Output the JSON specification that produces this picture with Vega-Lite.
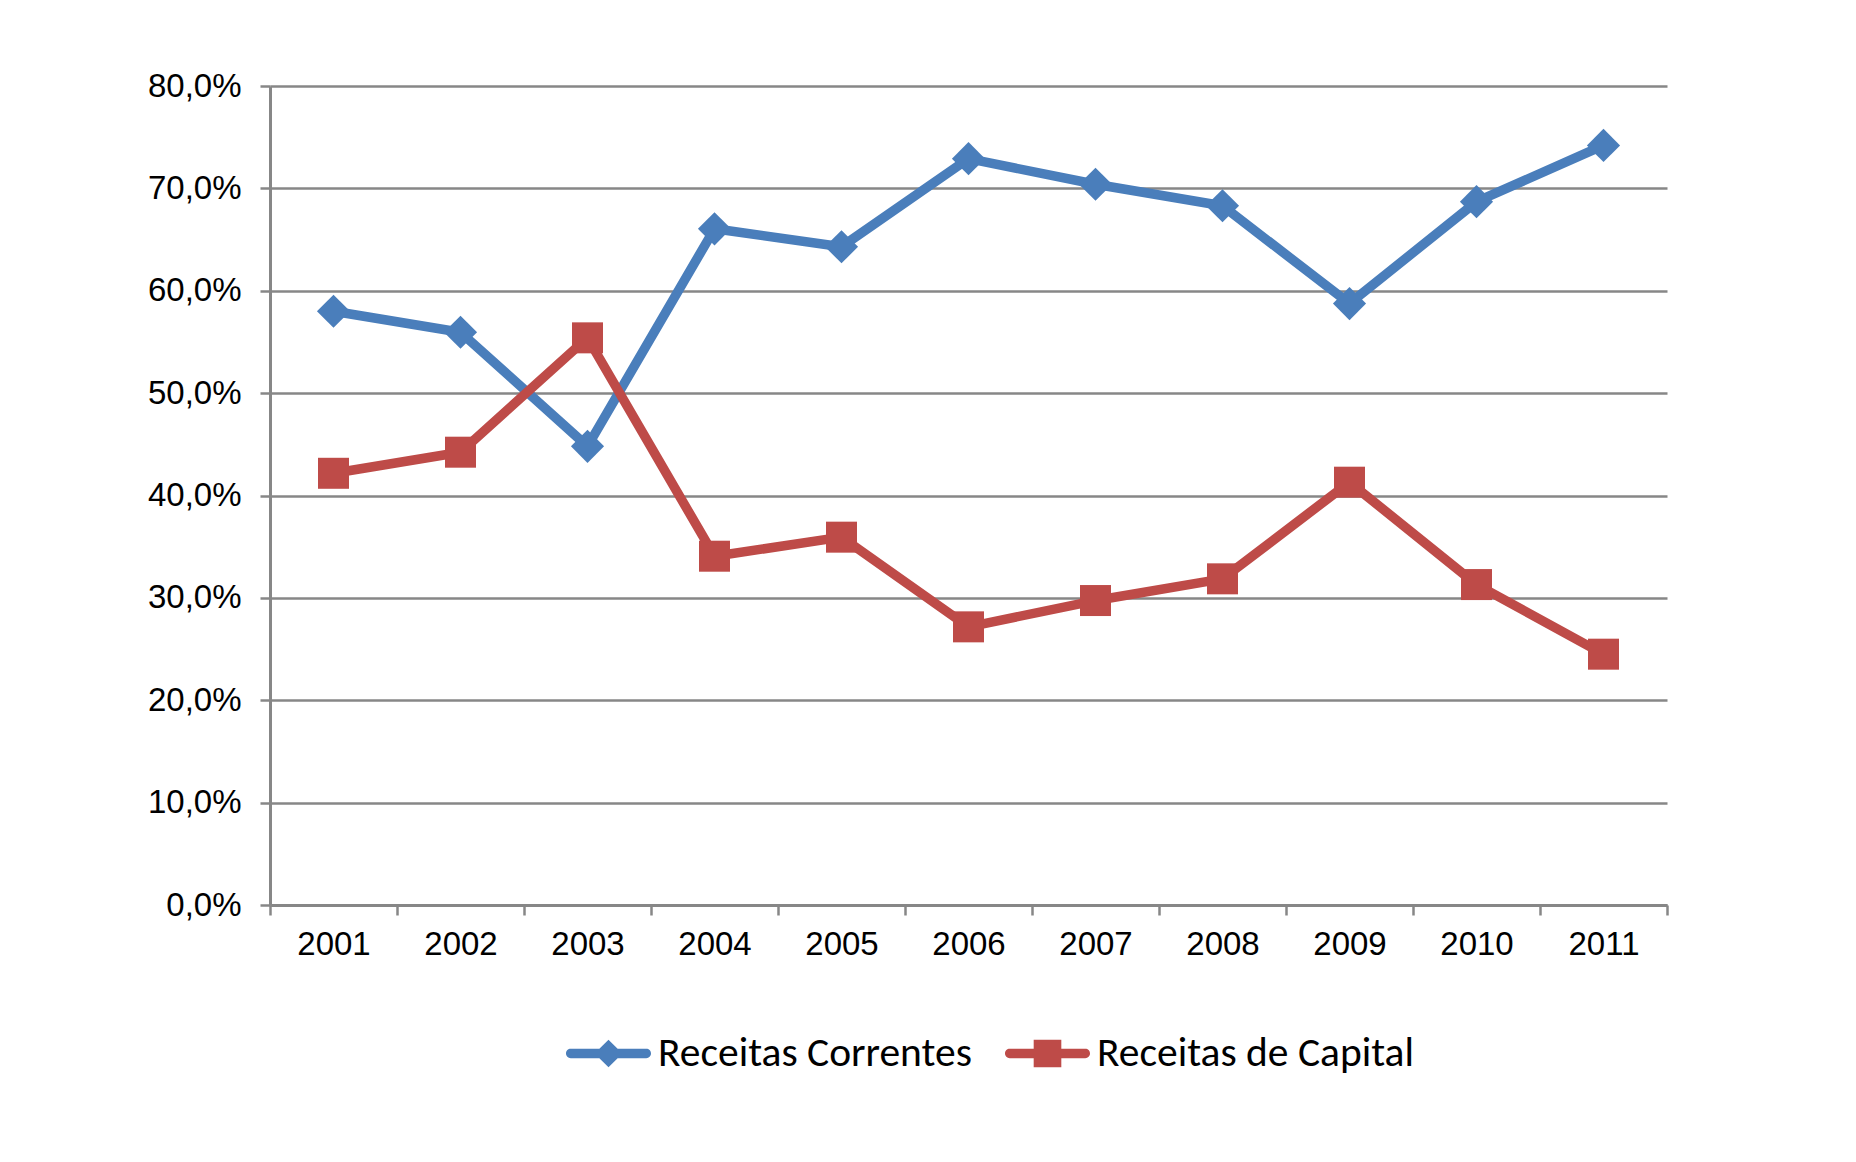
{
  "$schema": "https://vega.github.io/schema/vega-lite/v6.json",
  "width": 1397,
  "height": 819,
  "autosize": {"type": "none"},
  "padding": {"left": 270, "top": 86, "right": 189, "bottom": 257},
  "background": "white",
  "config": {
    "locale": {"number": {"decimal": ",", "thousands": ".", "grouping": [3], "currency": ["R$", ""]}},
    "view": {"stroke": null},
    "axis": {
      "labelFont": "Liberation Sans",
      "labelFontSize": 33,
      "labelColor": "#000000",
      "domainColor": "#878787",
      "tickColor": "#878787",
      "gridColor": "#878787",
      "title": null
    }
  },
  "data": {
    "values": [
      {"ano": "2001", "serie": "Receitas Correntes", "valor": 0.580},
      {"ano": "2002", "serie": "Receitas Correntes", "valor": 0.5595},
      {"ano": "2003", "serie": "Receitas Correntes", "valor": 0.448},
      {"ano": "2004", "serie": "Receitas Correntes", "valor": 0.6605},
      {"ano": "2005", "serie": "Receitas Correntes", "valor": 0.643},
      {"ano": "2006", "serie": "Receitas Correntes", "valor": 0.729},
      {"ano": "2007", "serie": "Receitas Correntes", "valor": 0.704},
      {"ano": "2008", "serie": "Receitas Correntes", "valor": 0.683},
      {"ano": "2009", "serie": "Receitas Correntes", "valor": 0.5875},
      {"ano": "2010", "serie": "Receitas Correntes", "valor": 0.687},
      {"ano": "2011", "serie": "Receitas Correntes", "valor": 0.742},
      {"ano": "2001", "serie": "Receitas de Capital", "valor": 0.4217},
      {"ano": "2002", "serie": "Receitas de Capital", "valor": 0.4423},
      {"ano": "2003", "serie": "Receitas de Capital", "valor": 0.554},
      {"ano": "2004", "serie": "Receitas de Capital", "valor": 0.3407},
      {"ano": "2005", "serie": "Receitas de Capital", "valor": 0.3593},
      {"ano": "2006", "serie": "Receitas de Capital", "valor": 0.2717},
      {"ano": "2007", "serie": "Receitas de Capital", "valor": 0.2974},
      {"ano": "2008", "serie": "Receitas de Capital", "valor": 0.3186},
      {"ano": "2009", "serie": "Receitas de Capital", "valor": 0.413},
      {"ano": "2010", "serie": "Receitas de Capital", "valor": 0.313},
      {"ano": "2011", "serie": "Receitas de Capital", "valor": 0.245}
    ]
  },
  "encoding": {
    "x": {
      "field": "ano",
      "type": "ordinal",
      "bandPosition": 0.5,
      "scale": {"type": "band", "paddingInner": 0, "paddingOuter": 0},
      "axis": {
        "tickBand": "extent",
        "tickSize": 10,
        "tickWidth": 2.5,
        "domainWidth": 3,
        "labelPadding": 13,
        "labelAngle": 0,
        "grid": false
      }
    },
    "y": {
      "field": "valor",
      "type": "quantitative",
      "scale": {"domain": [0, 0.8], "nice": false},
      "axis": {
        "values": [0, 0.1, 0.2, 0.3, 0.4, 0.5, 0.6, 0.7, 0.8],
        "format": ".1%",
        "tickSize": 10,
        "tickWidth": 2.5,
        "domainWidth": 3,
        "gridWidth": 2.5,
        "labelPadding": 19,
        "grid": true
      }
    },
    "color": {
      "field": "serie",
      "type": "nominal",
      "scale": {"domain": ["Receitas Correntes", "Receitas de Capital"], "range": ["#4a7ebb", "#be4b48"]},
      "legend": null
    }
  },
  "layer": [
    {
      "mark": {"type": "point", "filled": true, "opacity": 0, "size": 7225},
      "encoding": {
        "color": {
          "field": "serie",
          "type": "nominal",
          "legend": {
            "title": null,
            "orient": "none",
            "legendX": 296,
            "legendY": 925,
            "direction": "horizontal",
            "padding": 0,
            "symbolSize": 7225,
            "symbolOpacity": 1,
            "symbolStrokeWidth": 0,
            "labelFont": "Carlito, Calibri, Lato",
            "labelFontSize": 41.5,
            "labelColor": "#000000",
            "labelOffset": 7,
            "labelLimit": 2000,
            "columnPadding": 33
          }
        },
        "shape": {
          "field": "serie",
          "type": "nominal",
          "legend": {
            "title": null,
            "orient": "none",
            "legendX": 296,
            "legendY": 925,
            "direction": "horizontal",
            "padding": 0,
            "symbolSize": 7225,
            "symbolOpacity": 1,
            "symbolStrokeWidth": 0,
            "labelFont": "Carlito, Calibri, Lato",
            "labelFontSize": 41.5,
            "labelColor": "#000000",
            "labelOffset": 7,
            "labelLimit": 2000,
            "columnPadding": 33
          },
          "scale": {
            "domain": ["Receitas Correntes", "Receitas de Capital"],
            "range": [
              "M-0.89,-0.11L-0.215,-0.11L0,-0.325L0.215,-0.11L0.89,-0.11A0.11,0.11 0 0 1 0.89,0.11L0.215,0.11L0,0.325L-0.215,0.11L-0.89,0.11A0.11,0.11 0 0 1 -0.89,-0.11Z",
              "M-0.89,-0.11L-0.325,-0.11L-0.325,-0.325L0.325,-0.325L0.325,-0.11L0.89,-0.11A0.11,0.11 0 0 1 0.89,0.11L0.325,0.11L0.325,0.325L-0.325,0.325L-0.325,0.11L-0.89,0.11A0.11,0.11 0 0 1 -0.89,-0.11Z"
            ]
          }
        }
      }
    },
    {
      "mark": {"type": "line", "strokeWidth": 9.5, "strokeJoin": "round", "strokeCap": "round"}
    },
    {
      "transform": [{"filter": "datum.serie === 'Receitas Correntes'"}],
      "mark": {"type": "point", "shape": "diamond", "filled": true, "opacity": 1, "size": 1100}
    },
    {
      "transform": [{"filter": "datum.serie === 'Receitas de Capital'"}],
      "mark": {"type": "point", "shape": "square", "filled": true, "opacity": 1, "size": 961}
    }
  ]
}
